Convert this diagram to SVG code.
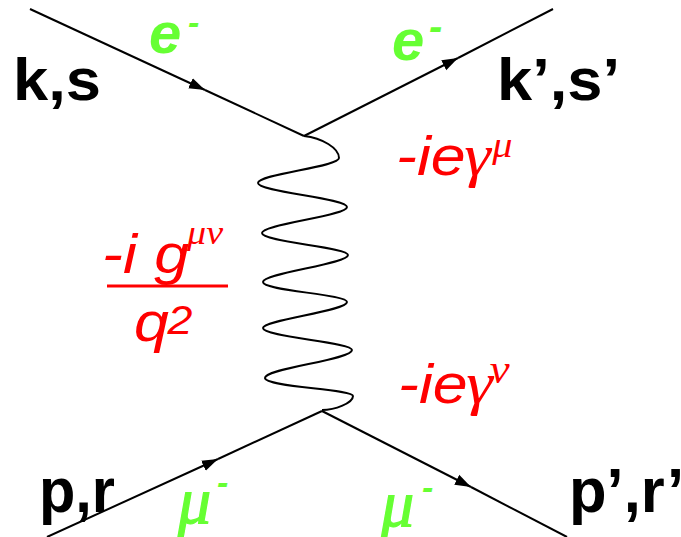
<svg xmlns="http://www.w3.org/2000/svg" width="681" height="537" viewBox="0 0 681 537">
<style>
.line{fill:none;stroke:#000;stroke-width:2}
.wave{fill:none;stroke:#000;stroke-width:2}
.lbl{font-family:"Liberation Sans",Arial,sans-serif;font-weight:bold;fill:#000}
.grn{font-family:"Liberation Sans",Arial,sans-serif;font-weight:bold;font-style:italic;fill:#66FF33}
.grk{font-family:"Liberation Serif","Times New Roman",serif;font-style:italic}
.gmu{fill:#66FF33;stroke:#66FF33;stroke-width:1.2}
.red{font-family:"Liberation Sans",Arial,sans-serif;font-style:italic;fill:#FF0000}
</style>
<defs>
<marker id="arr" markerUnits="userSpaceOnUse" markerWidth="20" markerHeight="14" refX="16" refY="6" orient="auto">
<path d="M0,0.5 L16,6 L0,11.5 Z" fill="#000"/>
</marker>
</defs>
<g id="connectors">
<path class="line" d="M30,9 L205,90" marker-end="url(#arr)"/>
<path class="line" d="M205,90 L304,136"/>
<path class="line" d="M304,136 L458,58" marker-end="url(#arr)"/>
<path class="line" d="M458,58 L553,9"/>
<path class="line" d="M47,537 L218,459" marker-end="url(#arr)"/>
<path class="line" d="M218,459 L322,411"/>
<path class="line" d="M322,411 L471,487" marker-end="url(#arr)"/>
<path class="line" d="M471,487 L567,537"/>
<path id="photon" class="wave" d="M304,136 C322,138 339,148 339,158 C339,167 258,174 258,183 C258,192 347,198 347,207 C347,216 262,224 262,233 C262,242 348,247 348,255 C348,264 263,273 263,282 C263,291 347,294 347,302 C347,311 263,320 263,328 C263,337 352,342 352,350 C352,360 265,368 265,378 C265,387 353,389 353,396 C353,403 335,410 322,410"/>
</g>
<g id="ks"><text class="lbl" x="13" y="100" font-size="60" textLength="88" lengthAdjust="spacingAndGlyphs">k,s</text></g>
<g id="ksp"><text class="lbl" x="497" y="100" font-size="60" textLength="123" lengthAdjust="spacingAndGlyphs">k’,s’</text></g>
<g id="pr"><text class="lbl" x="39" y="512" font-size="63" textLength="76" lengthAdjust="spacingAndGlyphs">p,r</text></g>
<g id="prp"><text class="lbl" x="569" y="512" font-size="63" textLength="115" lengthAdjust="spacingAndGlyphs">p’,r’</text></g>
<g id="e-in"><text class="grn" x="149" y="53" font-size="58">e<tspan x="188" y="34" font-size="34">-</tspan></text></g>
<g id="e-out"><text class="grn" x="392" y="60" font-size="58">e<tspan x="429" y="40" font-size="40">-</tspan></text></g>
<g id="mu-in"><text class="grk gmu" x="178" y="523" font-size="66">μ</text><text class="grn" x="217" y="494" font-size="34" font-style="normal">-</text></g>
<g id="mu-out"><text class="grk gmu" x="381" y="526" font-size="66">μ</text><text class="grn" x="422" y="499" font-size="34" font-style="normal">-</text></g>
<g id="vertex-top" transform="translate(396,175) scale(1.12,1)">
<text class="red" x="0" y="0" font-size="56">-ie</text>
<text class="grk" x="61" y="0" font-size="60" fill="#FF0000">γ</text>
<text class="grk" x="86" y="-18" font-size="36" fill="#FF0000">μ</text>
</g>
<g id="vertex-bottom" transform="translate(398,403) scale(1.12,1)">
<text class="red" x="0" y="0" font-size="56">-ie</text>
<text class="grk" x="61" y="0" font-size="60" fill="#FF0000">γ</text>
<text class="grk" x="82" y="-20" font-size="40" fill="#FF0000">ν</text>
</g>
<g id="propagator">
<g transform="translate(102,273) scale(1.12,1)">
<text class="red" x="0" y="0" font-size="56">-i g</text>
<text class="grk" x="76" y="-29" font-size="34" fill="#FF0000">μ</text>
<text class="grk" x="93" y="-29" font-size="34" fill="#FF0000">ν</text>
</g>
<line x1="107" y1="286" x2="228" y2="286" stroke="#FF0000" stroke-width="3"/>
<g transform="translate(134,341) scale(1.12,1)">
<text class="red" x="0" y="0" font-size="56">q</text>
<text class="red" x="30" y="-7" font-size="40">2</text>
</g>
</g>
</svg>
